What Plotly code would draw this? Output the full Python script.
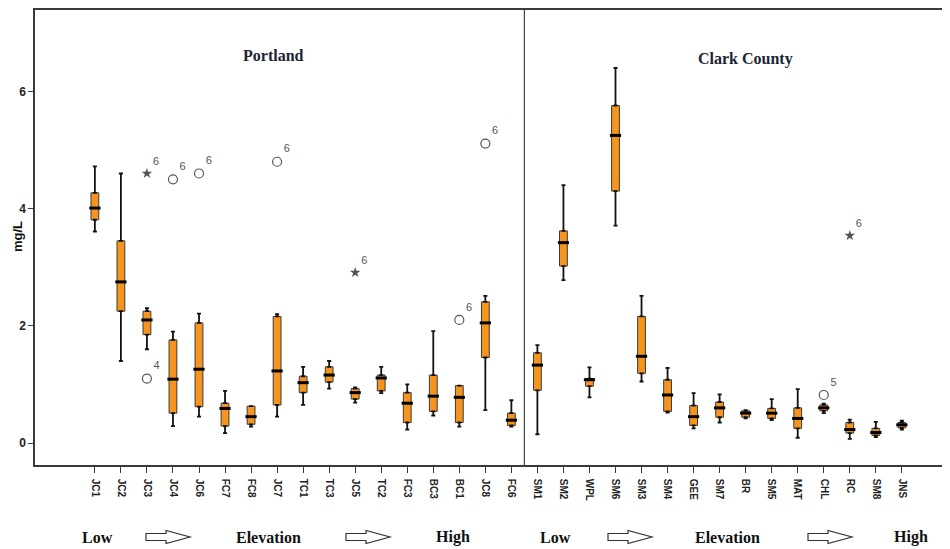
import plotly.graph_objects as go

# ---------------- data ----------------
portland_sites = ["JC1", "JC2", "JC3", "JC4", "JC6", "FC7", "FC8", "JC7", "TC1", "TC3",
                  "JC5", "TC2", "FC3", "BC3", "BC1", "JC8", "FC6"]
clark_sites = ["SM1", "SM2", "WPL", "SM6", "SM3", "SM4", "GEE", "SM7", "BR", "SM5",
               "MAT", "CHL", "RC", "SM8", "JNS"]
sites = portland_sites + clark_sites

lower = [3.61, 1.40, 1.60, 0.29, 0.45, 0.17, 0.28, 0.45, 0.65, 0.93, 0.69, 0.85, 0.23, 0.47, 0.28, 0.56, 0.28,
         0.15, 2.78, 0.78, 3.71, 1.05, 0.52, 0.25, 0.35, 0.42, 0.39, 0.09, 0.51, 0.07, 0.10, 0.23]
q1 = [3.81, 2.25, 1.85, 0.51, 0.62, 0.29, 0.32, 0.65, 0.86, 1.04, 0.75, 0.89, 0.35, 0.54, 0.35, 1.46, 0.30,
      0.90, 3.02, 0.97, 4.30, 1.19, 0.54, 0.30, 0.44, 0.44, 0.42, 0.25, 0.55, 0.17, 0.13, 0.26]
median = [4.01, 2.75, 2.10, 1.09, 1.26, 0.59, 0.45, 1.23, 1.03, 1.16, 0.86, 1.11, 0.68, 0.80, 0.78, 2.05, 0.39,
          1.33, 3.42, 1.08, 5.25, 1.48, 0.82, 0.45, 0.60, 0.51, 0.51, 0.42, 0.60, 0.23, 0.18, 0.31]
q3 = [4.27, 3.45, 2.25, 1.76, 2.05, 0.68, 0.63, 2.16, 1.14, 1.30, 0.93, 1.16, 0.86, 1.16, 0.98, 2.41, 0.51,
      1.54, 3.62, 1.10, 5.76, 2.16, 1.08, 0.64, 0.70, 0.55, 0.59, 0.60, 0.65, 0.35, 0.25, 0.35]
upper = [4.72, 4.60, 2.30, 1.90, 2.21, 0.89, 0.63, 2.20, 1.30, 1.40, 0.95, 1.30, 1.00, 1.91, 0.98, 2.51, 0.73,
         1.67, 4.40, 1.29, 6.40, 2.51, 1.28, 0.85, 0.83, 0.56, 0.75, 0.92, 0.67, 0.40, 0.36, 0.38]

out_sites = ["JC3", "JC3", "JC4", "JC6", "JC7", "JC5", "BC1", "JC8", "CHL", "RC"]
out_values = [4.60, 1.10, 4.50, 4.60, 4.80, 2.91, 2.10, 5.11, 0.82, 3.54]
out_kinds = ["star", "circle", "circle", "circle", "circle", "star", "circle", "circle", "circle", "star"]
out_labels = ["6", "4", "6", "6", "6", "6", "6", "6", "5", "6"]

y_ticks = [0, 2, 4, 6]
region_titles = ["Portland", "Clark County"]
gradient_words = ["Low", "Elevation", "High"]
y_title = "mg/L"

# ---------------- layout geometry ----------------
# page body has an 8px default margin; compensate so the plot lands where the reference has it
BODY = 8
W, H = 950 - BODY, 549 - BODY
PLOT_L, PLOT_T, PLOT_R, PLOT_B = 35, 10, 950, 465          # window pixel coords of the plot area
ML, MT = PLOT_L - BODY, PLOT_T - BODY
MR = 950 - PLOT_R
MB = H - MT - (PLOT_B - PLOT_T)
PW, PH = PLOT_R - PLOT_L, PLOT_B - PLOT_T


def px_x(px):
    return (px - PLOT_L) / PW


def px_y(py):
    return (PLOT_B - py) / PH


fig = go.Figure()

ORANGE = "#F7941D"

fig.add_trace(go.Box(
    x=sites, q1=q1, median=median, q3=q3,
    lowerfence=q1, upperfence=q3,
    fillcolor=ORANGE, line=dict(color="#3a3a3a", width=1),
    width=0.3, whiskerwidth=0, boxpoints=False, showlegend=False, hoverinfo="skip",
))

# whiskers (upper and lower) as error bars from the box edges
fig.add_trace(go.Scatter(
    x=sites, y=q3, mode="markers", marker=dict(size=1, opacity=0),
    error_y=dict(type="data", symmetric=False,
                 array=[u - q for u, q in zip(upper, q3)], arrayminus=[0] * len(sites),
                 color="#111", thickness=1.8, width=2),
    showlegend=False, hoverinfo="skip",
))
fig.add_trace(go.Scatter(
    x=sites, y=q1, mode="markers", marker=dict(size=1, opacity=0),
    error_y=dict(type="data", symmetric=False,
                 array=[0] * len(sites), arrayminus=[q - l for q, l in zip(q1, lower)],
                 color="#111", thickness=1.8, width=2),
    showlegend=False, hoverinfo="skip",
))

# thick median bars
fig.add_trace(go.Scatter(
    x=sites, y=median, mode="markers",
    marker=dict(symbol="line-ew", size=8, line=dict(color="black", width=3)),
    showlegend=False, hoverinfo="skip",
))

# outliers
for kind in ["circle", "star"]:
    idx = [i for i, k in enumerate(out_kinds) if k == kind]
    if kind == "circle":
        marker = dict(symbol="circle-open", size=9, color="#555", line=dict(color="#555", width=1.2))
    else:
        marker = dict(symbol="star", size=8, color="#555", line=dict(width=0))
    fig.add_trace(go.Scatter(
        x=[out_sites[i] for i in idx], y=[out_values[i] for i in idx],
        mode="markers+text", marker=marker,
        text=[out_labels[i] for i in idx], textposition="top right",
        textfont=dict(family="Liberation Sans, Arial", size=11, color="#555"),
        showlegend=False, hoverinfo="skip",
    ))

# separator between regions
fig.add_shape(type="line", xref="x", yref="paper",
              x0=len(portland_sites) - 0.5, x1=len(portland_sites) - 0.5, y0=0, y1=1,
              line=dict(color="#444", width=1.2))

# region titles
title_font = dict(family="Liberation Serif, Times New Roman, serif", size=16, color="#1c2533")
for name, (cx, cy) in zip(region_titles, [(273, 56), (745, 59)]):
    fig.add_annotation(text="<b>%s</b>" % name, xref="paper", yref="paper",
                       x=px_x(cx), y=px_y(cy), xanchor="center", yanchor="middle",
                       showarrow=False, font=title_font)

# y axis title
fig.add_annotation(text="<b>%s</b>" % y_title, xref="paper", yref="paper",
                   x=px_x(17), y=px_y(237), xanchor="center", yanchor="middle",
                   textangle=-90, showarrow=False,
                   font=dict(family="Liberation Sans, Arial", size=13, color="#111"))

# bottom gradient labels and hollow arrows
bottom_font = dict(family="Liberation Serif, Times New Roman, serif", size=16, color="#111")
word_centers = [[97, 268, 453], [555, 727, 911]]
arrow_centers = [[168, 368], [630, 830]]
for grp in range(2):
    for w, cx in zip(gradient_words, word_centers[grp]):
        fig.add_annotation(text="<b>%s</b>" % w, xref="paper", yref="paper",
                           x=px_x(cx), y=px_y(537), xanchor="center", yanchor="middle",
                           showarrow=False, font=bottom_font)
    for cx in arrow_centers[grp]:
        cy = 537
        x0, x1, xh = cx - 22, cx - 2, cx + 22
        pts = [(x0, cy - 3.5), (x1, cy - 3.5), (x1, cy - 6.5), (xh, cy),
               (x1, cy + 6.5), (x1, cy + 3.5), (x0, cy + 3.5)]
        path = "M " + " L ".join("%.5f,%.5f" % (px_x(a), px_y(b)) for a, b in pts) + " Z"
        fig.add_shape(type="path", xref="paper", yref="paper", path=path,
                      line=dict(color="#333", width=1.2), fillcolor="white")

axis_line = "#3a3a3a"
fig.update_layout(
    width=W, height=H,
    margin=dict(l=ML, r=MR, t=MT, b=MB, pad=0, autoexpand=False),
    paper_bgcolor="white", plot_bgcolor="white",
    showlegend=False,
    xaxis=dict(
        type="category", categoryorder="array", categoryarray=sites,
        tickvals=sites, ticktext=["<b>%s</b>" % s for s in sites],
        range=[-2.3, 32.85],
        showline=True, linecolor=axis_line, linewidth=1.5, mirror=True,
        ticks="outside", ticklen=6, tickcolor=axis_line, tickwidth=1,
        ticklabelstandoff=4,
        tickangle=90, showgrid=False, zeroline=False,
        tickfont=dict(family="Liberation Sans, Arial", size=10, color="#222"),
    ),
    yaxis=dict(
        range=[-0.375, 7.39],
        tickvals=y_ticks, ticktext=["<b>%d</b>" % v for v in y_ticks],
        showline=True, linecolor=axis_line, linewidth=1.5, mirror=False,
        ticks="outside", ticklen=5, tickcolor=axis_line, tickwidth=1,
        showgrid=False, zeroline=False,
        tickfont=dict(family="Liberation Sans, Arial", size=12, color="#222"),
    ),
)

fig.write_html("out.html")
